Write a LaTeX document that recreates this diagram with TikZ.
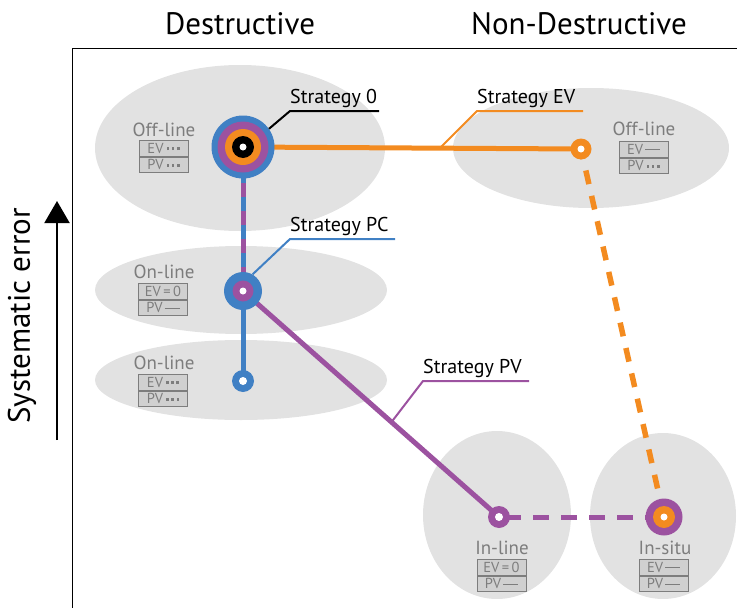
\documentclass[tikz,border=0pt]{standalone}
\usepackage{fontspec}
\setmainfont{PT Sans}
\usepackage{tikz}
\usetikzlibrary{arrows.meta,shapes.geometric,calc}

\definecolor{evorange}{RGB}{243,139,32}
\definecolor{pcblue}{RGB}{64,128,196}
\definecolor{pvpurple}{RGB}{156,82,160}
\definecolor{zonegray}{RGB}{226,226,226}
\definecolor{labelgray}{RGB}{125,125,125}
\definecolor{boxgray}{RGB}{208,208,208}

% small marks used inside the EV/PV tables
\newcommand{\tridots}{\hspace{3pt}\raisebox{3.2pt}{\rule{2.6pt}{2.6pt}}\hspace{2.6pt}\raisebox{3.2pt}{\rule{2.6pt}{2.6pt}}\hspace{2.6pt}\raisebox{3.2pt}{\rule{2.6pt}{2.6pt}}}
\newcommand{\flatbar}{\hspace{2pt}\raisebox{4pt}{\rule{15pt}{1pt}}}

\tikzset{
  zone/.style={ellipse, fill=zonegray, draw=none, inner sep=0pt},
  zonename/.style={text=labelgray, font=\fontsize{19}{19}\selectfont, inner sep=0pt},
  evpv/.style={draw=labelgray, fill=boxgray, line width=1pt, minimum width=49pt,
    minimum height=15.5pt, inner sep=0pt, text=labelgray, font=\fontsize{14.5}{14.5}\selectfont},
  stratname/.style={anchor=south west, inner sep=0pt, yshift=3pt, font=\fontsize{20}{20}\selectfont},
  heading/.style={font=\fontsize{31}{31}\selectfont, inner sep=0pt},
  ring/.style 2 args={circle, fill=#1, minimum size=#2, inner sep=0pt},
}

% EV/PV table: name, top centre, EV mark, PV mark
\newcommand{\evpvtable}[4]{%
  \node[evpv, anchor=north] (#1ev) at (#2) {EV#3};
  \node[evpv, anchor=north] (#1pv) at (#1ev.south) {PV#4};}

\begin{document}
\begin{tikzpicture}[x=1pt,y=-1pt]
\useasboundingbox (0,0) rectangle (737,608);

% zones
\node[zone, minimum width=290pt, minimum height=166pt] (offlz) at (240,148) {};
\node[zone, minimum width=292pt, minimum height=88pt] (onlaz) at (241,290) {};
\node[zone, minimum width=292pt, minimum height=80pt] (onlbz) at (241,380) {};
\node[zone, minimum width=276pt, minimum height=120pt] (offrz) at (591,148) {};
\node[zone, minimum width=148pt, minimum height=168pt] (inlz) at (497,515) {};
\node[zone, minimum width=146pt, minimum height=166pt] (insz) at (663,516) {};

% zone names and tables
\node[zonename] (offl) at (164,130) {Off-line};
\evpvtable{offl}{163.5,140}{\tridots}{\tridots}
\node[zonename] (onla) at (164,272) {On-line};
\evpvtable{onla}{163,283}{\,=\,0}{\flatbar}
\node[zonename] (onlb) at (164,363) {On-line};
\evpvtable{onlb}{163,374}{\tridots}{\tridots}
\node[zonename] (offr) at (644,129) {Off-line};
\evpvtable{offr}{643.5,141}{\flatbar}{\tridots}
\node[zonename] (inl) at (502,548) {In-line};
\evpvtable{inl}{501.5,559}{\,=\,0}{\flatbar}
\node[zonename] (ins) at (665,548) {In-situ};
\evpvtable{ins}{663.5,559}{\flatbar}{\flatbar}

% axes
\coordinate (axbot) at (72,608);
\coordinate (axtop) at (72,48);
\coordinate (axright) at (737,48);
\draw[line width=1pt] (axbot) -- (axtop) -- (axright);
\coordinate (errlow) at (57,440);
\coordinate (errhigh) at (57,201);
\draw[line width=2pt, -{Triangle[width=25pt,length=22pt]}] (errlow) -- (errhigh);
\node[heading, rotate=90] (syserr) at (22,316) {Systematic error};
\node[heading] (destr) at (240,24) {Destructive};
\node[heading] (ndestr) at (579,24) {Non-Destructive};

% marker positions
\coordinate (szero) at (243,147);
\coordinate (pcmk) at (243,291);
\coordinate (lowmk) at (243,381);
\coordinate (evmk) at (581,149);
\coordinate (inlmk) at (499,517);
\coordinate (insmk) at (664,517);

% strategy paths
\draw[evorange, line width=5pt] (szero) -- (evmk);
\draw[evorange, line width=5.5pt, dash pattern=on 14pt off 12pt, dash phase=4pt] (evmk) -- (insmk);
\draw[pcblue, line width=5pt] (szero) -- (lowmk);
\draw[pvpurple, line width=5pt, dash pattern=on 14pt off 14pt, dash phase=20pt] (szero) -- (pcmk);
\draw[pvpurple, line width=5pt] (pcmk) -- (inlmk);
\draw[pvpurple, line width=5pt, dash pattern=on 16pt off 12pt, dash phase=-6pt] (inlmk) -- (insmk);

% markers
\node[ring={pcblue}{63pt}] (s0) at (szero) {};
\node[ring={pvpurple}{51pt}] at (szero) {};
\node[ring={evorange}{36pt}] at (szero) {};
\node[ring={black}{22pt}] at (szero) {};
\node[ring={white}{7pt}] at (szero) {};
\node[ring={pcblue}{38pt}] (pc) at (pcmk) {};
\node[ring={pvpurple}{21pt}] at (pcmk) {};
\node[ring={white}{7pt}] at (pcmk) {};
\node[ring={pcblue}{22pt}] (low) at (lowmk) {};
\node[ring={white}{8pt}] at (lowmk) {};
\node[ring={evorange}{21pt}] (ev) at (evmk) {};
\node[ring={white}{7pt}] at (evmk) {};
\node[ring={pvpurple}{22pt}] (pv) at (inlmk) {};
\node[ring={white}{8pt}] at (inlmk) {};
\node[ring={pvpurple}{37pt}] (situ) at (insmk) {};
\node[ring={evorange}{22pt}] at (insmk) {};
\node[ring={white}{7pt}] at (insmk) {};

% strategy labels with leaders
\coordinate (szerok) at (290,111);
\coordinate (szeroe) at (379,111);
\draw[black, line width=2pt] (s0.35) -- (szerok) -- (szeroe);
\node[stratname] (szerolab) at (szerok) {Strategy 0};

\coordinate (evfoot) at (440,148);
\coordinate (evk) at (477,111);
\coordinate (eve) at (583,111);
\draw[evorange, line width=2pt] (evfoot) -- (evk) -- (eve);
\node[stratname] (evlab) at (evk) {Strategy EV};

\coordinate (pck) at (290,239);
\coordinate (pce) at (395,239);
\draw[pcblue, line width=2pt] (pc.60) -- (pck) -- (pce);
\node[stratname] (pclab) at (pck) {Strategy PC};

\coordinate (pvfoot) at ($(pcmk)!0.58!(inlmk)$);
\coordinate (pvk) at (423,381);
\coordinate (pve) at (529,381);
\draw[pvpurple, line width=2pt] (pvfoot) -- (pvk) -- (pve);
\node[stratname] (pvlab) at (pvk) {Strategy PV};

\end{tikzpicture}
\end{document}
